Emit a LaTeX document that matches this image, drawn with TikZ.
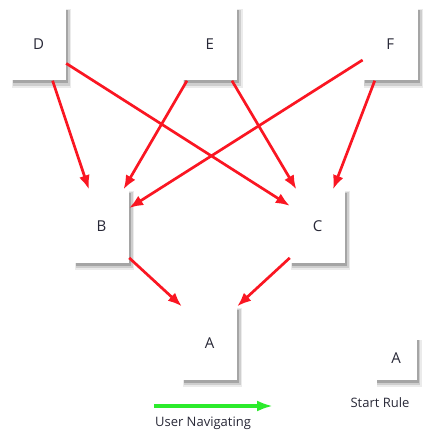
\documentclass[tikz,border=0pt]{standalone}
\usepackage{fontspec}
\setmainfont{Open Sans}
\usepackage{tikz}
\usetikzlibrary{arrows.meta,positioning,shadows}
\definecolor{linkred}{RGB}{250,22,34}
\definecolor{navgreen}{RGB}{44,235,44}
\definecolor{labelgray}{RGB}{40,40,55}

\begin{document}
\begin{tikzpicture}[x=1pt,y=-1pt,
page/.style={draw=none,fill=white,minimum width=55pt,minimum height=73pt,
drop shadow={shadow xshift=3pt,shadow yshift=-4.5pt,shadow scale=1.08,opacity=.08,fill=black},
drop shadow={shadow xshift=2.5pt,shadow yshift=-4pt,shadow scale=1.04,opacity=.12,fill=black},
drop shadow={shadow xshift=2pt,shadow yshift=-3pt,opacity=.2,fill=black},
font=\fontsize{15}{17}\selectfont,text=labelgray},
smallpage/.style={page,minimum width=42pt,minimum height=43pt},
caption/.style={font=\fontsize{13}{15}\selectfont,text=labelgray},
link/.style={-{Latex[length=14pt,width=11pt]},line width=2.7pt,linkred},
nav/.style={-{Latex[length=16pt,width=11pt]},line width=3.6pt,navgreen}
]
\useasboundingbox (0,0) rectangle (428,433);
\node[page] (d) at (38.5,44) {D};
\node[page,right=116pt of d] (e) {E};
\node[page,right=125pt of e] (f) {F};
\node[page] (b) at (101.5,226) {B};
\node[page] (c) at (317.5,226) {C};
\node[page] (a) at (209.5,343) {A};
\node[smallpage] (start) at (396,358.5) {A};
\node[caption] (startlbl) at (380,403) {Start Rule};
\coordinate (navfrom) at (154,406);
\coordinate (navto) at (273,406);
\node[caption] (navlbl) at (203,423) {User Navigating};
\draw[link] (d.-69) -- (b.109);
\draw[link] (d.-35) -- (c.144);
\draw[link] (e.-122) -- (b.59);
\draw[link] (e.-59) -- (c.120);
\draw[link] (f.-113) -- (c.67);
\draw[link] (f.-150) -- (b.33);
\draw[link] (b.-49) -- (a.north west);
\draw[link] (c.-131) -- (a.north east);
\draw[nav] (navfrom) -- (navto);
\end{tikzpicture}
\end{document}
